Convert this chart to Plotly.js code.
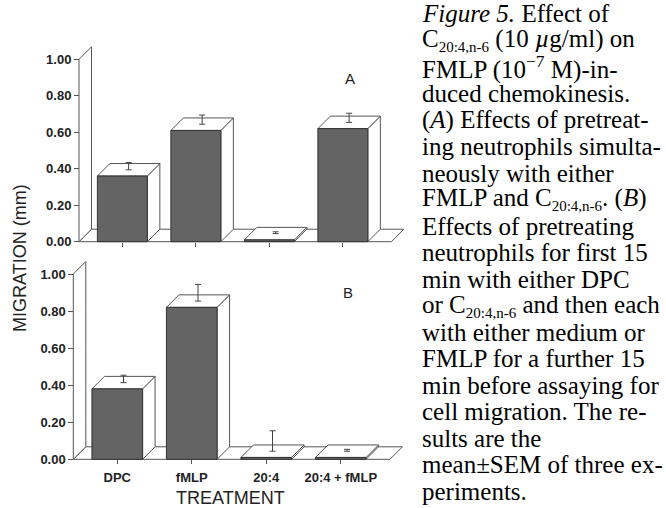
<!DOCTYPE html>
<html><head><meta charset="utf-8">
<script src="https://cdn.plot.ly/plotly-3.0.1.min.js"></script>
<style>html,body{margin:0;padding:0;background:#fff}#chart{width:666px;height:508px}</style>
</head><body><div id="chart"></div>
<script>
// ---- data ----
const categories = ['DPC', 'fMLP', '20:4', '20:4 + fMLP'];
const migrationA = [0.36, 0.61, 0.01, 0.62];
const semA = [0.04, 0.05, 0.01, 0.05];
const migrationB = [0.38, 0.82, 0.01, 0.01];
const semB = [0.04, 0.09, 0.11, 0.01];
const yTickVals = [0, 0.2, 0.4, 0.6, 0.8, 1.0];
const yTickText = ['0.00', '0.20', '0.40', '0.60', '0.80', '1.00'];
const SUB = '<sub><span style="font-size:15px">20:4,n-6</span></sub>';
const captionLines = [
  '<i>Figure 5.</i> Effect of',
  'C' + SUB + ' (10 <i>µ</i>g/ml) on',
  'FMLP (10<sup>−7</sup> M)-in-',
  'duced chemokinesis.',
  '(<i>A</i>) Effects of pretreat-',
  'ing neutrophils simulta-',
  'neously with either',
  'FMLP and C' + SUB + '. (<i>B</i>)',
  'Effects of pretreating',
  'neutrophils for first 15',
  'min with either DPC',
  'or C' + SUB + ' and then each',
  'with either medium or',
  'FMLP for a further 15',
  'min before assaying for',
  'cell migration. The re-',
  'sults are the',
  'mean±SEM of three ex-',
  'periments.'
];

// ---- geometry / style ----
const W = 666, H = 508;
const panels = [
  {label: 'A', vals: migrationA, errs: semA, wallPx: 79, zeroPx: 241.7, catPx: 73.5, unitPx: 182.4, xa: 'x', ya: 'y', labels: false, labelPos: [350, 79]},
  {label: 'B', vals: migrationB, errs: semB, wallPx: 73.3, zeroPx: 459.3, catPx: 74.5, unitPx: 185.3, xa: 'x2', ya: 'y2', labels: true, labelPos: [348, 292]}
];
const WALL = -0.59, FLOOR_END = 3.66, DEPTH = 12.5, BAR_W = 0.68;
const XR = [-0.8, 4.0], YR = [-0.03, 1.1];
const LINE = '#555', FRONT = '#646464';
const SANS = 'Liberation Sans, Arial, sans-serif';
const SERIF = 'Liberation Serif, Times New Roman, serif';

const traces = [], shapes = [], annotations = [];
const layout = {
  width: W, height: H, margin: {l: 0, r: 0, t: 0, b: 0},
  paper_bgcolor: '#fff', plot_bgcolor: 'rgba(0,0,0,0)',
  showlegend: false, bargap: 1 - BAR_W
};

function poly(pts) {
  return 'M ' + pts.map(p => p[0] + ',' + p[1]).join(' L ') + ' Z';
}
function note(xpx, ypx, text, font, extra) {
  return Object.assign({xref: 'paper', yref: 'paper', x: xpx / W, y: 1 - ypx / H,
    xanchor: 'center', yanchor: 'middle', text: text, showarrow: false, font: font}, extra || {});
}

panels.forEach((p, k) => {
  const dx = DEPTH / p.catPx, dy = DEPTH / p.unitPx;
  const leftPx = p.wallPx - (WALL - XR[0]) * p.catPx;
  const rightPx = leftPx + (XR[1] - XR[0]) * p.catPx;
  const botPx = p.zeroPx - YR[0] * p.unitPx;
  const topPx = p.zeroPx - YR[1] * p.unitPx;
  const sfx = k === 0 ? '' : '2';
  const common = {xref: p.xa, yref: p.ya, fillcolor: '#fff', line: {color: LINE, width: 1}, layer: 'below', type: 'path'};
  // floor and wall
  shapes.push(Object.assign({}, common, {path: poly([[WALL, 0], [FLOOR_END, 0], [FLOOR_END + dx, dy], [WALL + dx, dy]])}));
  shapes.push(Object.assign({}, common, {path: poly([[WALL, 0], [WALL, 1], [WALL + dx, 1 + dy], [WALL + dx, dy]])}));
  // bar top and side faces
  p.vals.forEach((v, i) => {
    const l = i - BAR_W / 2, r = i + BAR_W / 2;
    shapes.push(Object.assign({}, common, {path: poly([[r, 0], [r, v], [r + dx, v + dy], [r + dx, dy]])}));
    shapes.push(Object.assign({}, common, {path: poly([[l, v], [r, v], [r + dx, v + dy], [l + dx, v + dy]])}));
  });
  const xs = p.vals.map((v, i) => i);
  traces.push({
    type: 'bar', x: xs, y: p.vals, xaxis: p.xa, yaxis: p.ya,
    marker: {color: FRONT, line: {color: '#333', width: 1}}, hoverinfo: 'skip'
  });
  traces.push({
    type: 'scatter', mode: 'markers', xaxis: p.xa, yaxis: p.ya,
    x: xs.map(i => i + dx / 2), y: p.vals.map(v => v + dy / 2),
    marker: {size: 1, opacity: 0},
    error_y: {type: 'data', symmetric: false, array: p.errs, arrayminus: p.errs.map(() => 0),
              color: '#444', thickness: 1, width: 3},
    hoverinfo: 'skip'
  });
  const tickFont = {family: SANS, size: 13, color: '#222', weight: 'bold'};
  layout['xaxis' + sfx] = {
    domain: [leftPx / W, rightPx / W], range: XR, anchor: 'free', position: 1 - p.zeroPx / H,
    tickmode: 'array', tickvals: xs, ticktext: categories, showticklabels: p.labels,
    ticks: 'outside', ticklen: 4, tickcolor: LINE, showline: false, showgrid: false, zeroline: false,
    tickfont: tickFont, ticklabelstandoff: 2, fixedrange: true
  };
  layout['yaxis' + sfx] = {
    domain: [1 - botPx / H, 1 - topPx / H], range: YR, anchor: 'free', position: p.wallPx / W,
    tickmode: 'array', tickvals: yTickVals, ticktext: yTickText,
    ticks: 'outside', ticklen: 5, tickcolor: LINE, showline: false, showgrid: false, zeroline: false,
    tickfont: tickFont, fixedrange: true
  };
  annotations.push(note(p.labelPos[0], p.labelPos[1], p.label, {family: SANS, size: 15, color: '#222'}));
});

annotations.push(note(20, 258, 'MIGRATION (mm)', {family: SANS, size: 18, color: '#222'}, {textangle: -90}));
annotations.push(note(230, 498, 'TREATMENT', {family: SANS, size: 18, color: '#222'}));
captionLines.forEach((t, i) => {
  annotations.push(note(420, 14 + i * 26.5, t, {family: SERIF, size: 25, color: '#000'},
    {xanchor: 'left', align: 'left'}));
});

layout.shapes = shapes;
layout.annotations = annotations;
Plotly.newPlot('chart', traces, layout, {displayModeBar: false, staticPlot: true});
</script>
</body></html>
